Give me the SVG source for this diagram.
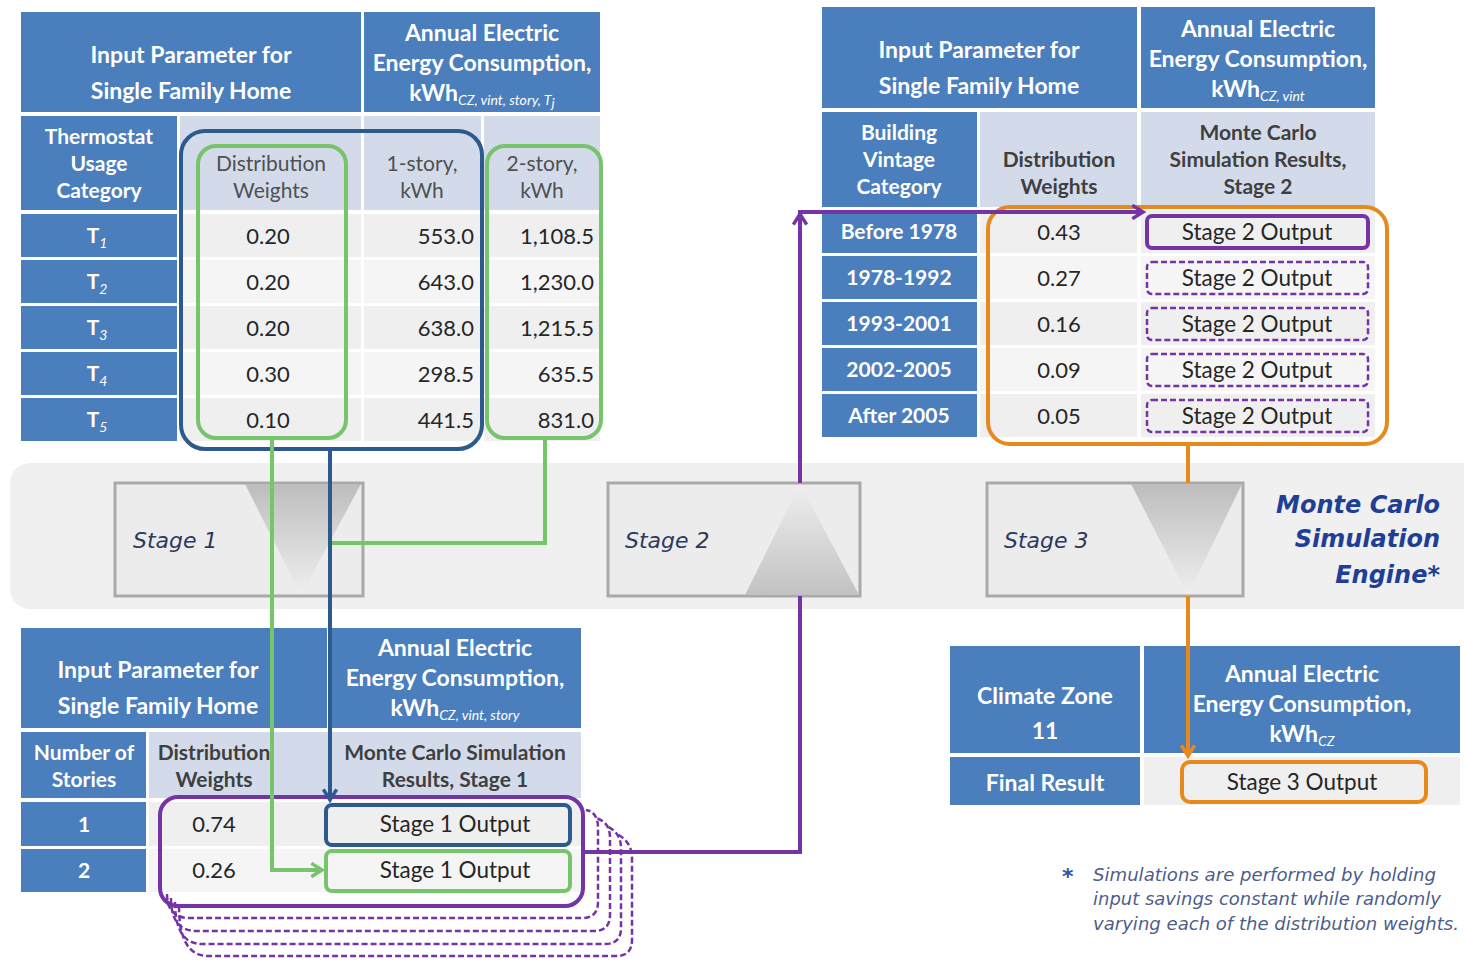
<svg xmlns="http://www.w3.org/2000/svg" width="1464" height="960" viewBox="0 0 1464 960">
<defs>
<style>
.bc{fill:#4b7ebd}
.lc{fill:#d3dbea}
.dc{fill:#efefef}
.dc2{fill:#f5f5f5}
.hw{font-family:Lato,"Liberation Sans",sans-serif;font-weight:bold;font-size:23px;fill:#fff;text-anchor:middle}
.hc{font-family:Lato,"Liberation Sans",sans-serif;font-weight:bold;font-size:21px;fill:#fff;text-anchor:middle}
.sb{font-style:italic;font-weight:normal;font-size:14px}
.sh{font-family:Lato,"Liberation Sans",sans-serif;font-weight:bold;font-size:21px;fill:#3f3f3f;text-anchor:middle}
.shr{font-family:Lato,"Liberation Sans",sans-serif;font-size:21px;fill:#505050;text-anchor:middle}
.dt{font-family:Lato,"Liberation Sans",sans-serif;font-size:22px;fill:#262626;text-anchor:middle}
.do{font-family:Lato,"Liberation Sans",sans-serif;font-size:22.5px;fill:#262626;text-anchor:middle}
.dr{font-family:Lato,"Liberation Sans",sans-serif;font-size:22px;fill:#262626;text-anchor:end}
.stg{font-family:"DejaVu Sans",Verdana,sans-serif;font-style:italic;font-size:22px;fill:#2b3a5c}
.sbox{fill:#ececec;stroke:#a9a9a9;stroke-width:3}
.conn{fill:none;stroke-width:4}
.g{stroke:#77c46c}
.b{stroke:#2d5a8e}
.p{stroke:#7434a6}
.o{stroke:#e8891e}
.pdash{fill:none;stroke:#7434a6;stroke-width:2.5;stroke-dasharray:6 3}
</style>
<linearGradient id="gDown" x1="0" y1="0" x2="0" y2="1">
<stop offset="0" stop-color="#bdbdbd"/><stop offset="1" stop-color="#efefef"/>
</linearGradient>
<linearGradient id="gUp" x1="0" y1="0" x2="0" y2="1">
<stop offset="0" stop-color="#efefef"/><stop offset="1" stop-color="#c2c2c2"/>
</linearGradient>
<marker id="ag" viewBox="0 0 12 12" refX="10" refY="6" markerWidth="16" markerHeight="16" markerUnits="userSpaceOnUse" orient="auto"><path d="M2,1 L10,6 L2,11" fill="none" stroke="#77c46c" stroke-width="2.6"/></marker>
<marker id="ab" viewBox="0 0 12 12" refX="10" refY="6" markerWidth="16" markerHeight="16" markerUnits="userSpaceOnUse" orient="auto"><path d="M2,1 L10,6 L2,11" fill="none" stroke="#2d5a8e" stroke-width="2.6"/></marker>
<marker id="ap" viewBox="0 0 12 12" refX="10" refY="6" markerWidth="16" markerHeight="16" markerUnits="userSpaceOnUse" orient="auto"><path d="M2,1 L10,6 L2,11" fill="none" stroke="#7434a6" stroke-width="2.6"/></marker>
<marker id="ao" viewBox="0 0 12 12" refX="10" refY="6" markerWidth="16" markerHeight="16" markerUnits="userSpaceOnUse" orient="auto"><path d="M2,1 L10,6 L2,11" fill="none" stroke="#e8891e" stroke-width="2.6"/></marker>
</defs>
<rect width="1464" height="960" fill="#fff"/>

<!-- engine band -->
<g id="engine">
<rect x="10" y="463" width="1480" height="146" rx="20" fill="#f0f0f0"/>
<text x="1440" y="513" font-family="'DejaVu Sans',Verdana,sans-serif" font-weight="bold" font-style="italic" font-size="24" fill="#213e96" text-anchor="end">Monte Carlo</text>
<text x="1440" y="547" font-family="'DejaVu Sans',Verdana,sans-serif" font-weight="bold" font-style="italic" font-size="24" fill="#213e96" text-anchor="end">Simulation</text>
<text x="1440" y="583" font-family="'DejaVu Sans',Verdana,sans-serif" font-weight="bold" font-style="italic" font-size="24" fill="#213e96" text-anchor="end">Engine*</text>
</g>
<g id="stage1">
<rect class="sbox" x="115" y="483" width="248" height="113"/>
<polygon points="245,484 361,484 301,595" fill="url(#gDown)"/>
<text class="stg" x="133" y="548">Stage 1</text>
</g>
<g id="stage2">
<rect class="sbox" x="608" y="483" width="252" height="113"/>
<polygon points="800,484 859,595 745,595" fill="url(#gUp)"/>
<text class="stg" x="625" y="548">Stage 2</text>
</g>
<g id="stage3">
<rect class="sbox" x="987" y="483" width="256" height="113"/>
<polygon points="1131,484 1242,484 1188,595" fill="url(#gDown)"/>
<text class="stg" x="1004" y="548">Stage 3</text>
</g>

<!-- top-left table -->
<g id="table-thermostat">
<rect class="bc" x="21" y="12" width="340" height="100"/>
<rect class="bc" x="364" y="12" width="236" height="100"/>
<text class="hw" x="191" y="63">Input Parameter for</text>
<text class="hw" x="191" y="99">Single Family Home</text>
<text class="hw" x="482" y="41">Annual Electric</text>
<text class="hw" x="482" y="71">Energy Consumption,</text>
<text class="hw" x="482" y="101">kWh<tspan class="sb" dy="4">CZ, vint, story, T</tspan><tspan class="sb" font-size="9" dy="3">j</tspan></text>
<rect class="bc" x="21" y="116" width="156" height="94"/>
<rect class="lc" x="180" y="116" width="181" height="94"/>
<rect class="lc" x="364" y="116" width="117" height="94"/>
<rect class="lc" x="484" y="116" width="116" height="94"/>
<text class="hc" x="99" y="144">Thermostat</text>
<text class="hc" x="99" y="171">Usage</text>
<text class="hc" x="99" y="198">Category</text>
<text class="shr" x="271" y="171">Distribution</text>
<text class="shr" x="271" y="198">Weights</text>
<text class="shr" x="422" y="171">1-story,</text>
<text class="shr" x="422" y="198">kWh</text>
<text class="shr" x="542" y="171">2-story,</text>
<text class="shr" x="542" y="198">kWh</text>
<rect class="bc" x="21" y="214" width="156" height="43"/><rect class="dc" x="180" y="214" width="181" height="43"/><rect class="dc" x="364" y="214" width="117" height="43"/><rect class="dc" x="484" y="214" width="116" height="43"/>
<rect class="bc" x="21" y="260" width="156" height="43"/><rect class="dc2" x="180" y="260" width="181" height="43"/><rect class="dc2" x="364" y="260" width="117" height="43"/><rect class="dc2" x="484" y="260" width="116" height="43"/>
<rect class="bc" x="21" y="306" width="156" height="43"/><rect class="dc" x="180" y="306" width="181" height="43"/><rect class="dc" x="364" y="306" width="117" height="43"/><rect class="dc" x="484" y="306" width="116" height="43"/>
<rect class="bc" x="21" y="352" width="156" height="43"/><rect class="dc2" x="180" y="352" width="181" height="43"/><rect class="dc2" x="364" y="352" width="117" height="43"/><rect class="dc2" x="484" y="352" width="116" height="43"/>
<rect class="bc" x="21" y="398" width="156" height="43"/><rect class="dc" x="180" y="398" width="181" height="43"/><rect class="dc" x="364" y="398" width="117" height="43"/><rect class="dc" x="484" y="398" width="116" height="43"/>
<text class="hc" x="97" y="243">T<tspan class="sb" font-weight="bold" font-style="normal" dy="5">1</tspan></text>
<text class="hc" x="97" y="289">T<tspan class="sb" font-weight="bold" font-style="normal" dy="5">2</tspan></text>
<text class="hc" x="97" y="335">T<tspan class="sb" font-weight="bold" font-style="normal" dy="5">3</tspan></text>
<text class="hc" x="97" y="381">T<tspan class="sb" font-weight="bold" font-style="normal" dy="5">4</tspan></text>
<text class="hc" x="97" y="427">T<tspan class="sb" font-weight="bold" font-style="normal" dy="5">5</tspan></text>
<text class="dt" x="268" y="244">0.20</text><text class="dr" x="474" y="244">553.0</text><text class="dr" x="594" y="244">1,108.5</text>
<text class="dt" x="268" y="290">0.20</text><text class="dr" x="474" y="290">643.0</text><text class="dr" x="594" y="290">1,230.0</text>
<text class="dt" x="268" y="336">0.20</text><text class="dr" x="474" y="336">638.0</text><text class="dr" x="594" y="336">1,215.5</text>
<text class="dt" x="268" y="382">0.30</text><text class="dr" x="474" y="382">298.5</text><text class="dr" x="594" y="382">635.5</text>
<text class="dt" x="268" y="428">0.10</text><text class="dr" x="474" y="428">441.5</text><text class="dr" x="594" y="428">831.0</text>
<rect x="181" y="131" width="301" height="318" rx="24" fill="none" stroke="#2d5a8e" stroke-width="4"/>
<rect x="198" y="146" width="148" height="292" rx="18" fill="none" stroke="#77c46c" stroke-width="4"/>
<rect x="487" y="146" width="114" height="292" rx="18" fill="none" stroke="#77c46c" stroke-width="4"/>
</g>

<!-- top-right table -->
<g id="table-vintage">
<rect class="bc" x="822" y="7" width="315" height="101"/>
<rect class="bc" x="1141" y="7" width="234" height="101"/>
<text class="hw" x="979" y="58">Input Parameter for</text>
<text class="hw" x="979" y="94">Single Family Home</text>
<text class="hw" x="1258" y="37">Annual Electric</text>
<text class="hw" x="1258" y="67">Energy Consumption,</text>
<text class="hw" x="1258" y="97">kWh<tspan class="sb" dy="4">CZ, vint</tspan></text>
<rect class="bc" x="822" y="112" width="155" height="95"/>
<rect class="lc" x="980" y="112" width="157" height="95"/>
<rect class="lc" x="1141" y="112" width="234" height="95"/>
<text class="hc" x="899" y="140">Building</text>
<text class="hc" x="899" y="167">Vintage</text>
<text class="hc" x="899" y="194">Category</text>
<text class="sh" x="1059" y="167">Distribution</text>
<text class="sh" x="1059" y="194">Weights</text>
<text class="sh" x="1258" y="140">Monte Carlo</text>
<text class="sh" x="1258" y="167">Simulation Results,</text>
<text class="sh" x="1258" y="194">Stage 2</text>
<rect class="bc" x="822" y="210" width="155" height="43"/><rect class="dc" x="980" y="210" width="157" height="43"/><rect class="dc" x="1141" y="210" width="234" height="43"/>
<rect class="bc" x="822" y="256" width="155" height="43"/><rect class="dc2" x="980" y="256" width="157" height="43"/><rect class="dc2" x="1141" y="256" width="234" height="43"/>
<rect class="bc" x="822" y="302" width="155" height="43"/><rect class="dc" x="980" y="302" width="157" height="43"/><rect class="dc" x="1141" y="302" width="234" height="43"/>
<rect class="bc" x="822" y="348" width="155" height="43"/><rect class="dc2" x="980" y="348" width="157" height="43"/><rect class="dc2" x="1141" y="348" width="234" height="43"/>
<rect class="bc" x="822" y="394" width="155" height="43"/><rect class="dc" x="980" y="394" width="157" height="43"/><rect class="dc" x="1141" y="394" width="234" height="43"/>
<text class="hc" x="899" y="239">Before 1978</text>
<text class="hc" x="899" y="285">1978-1992</text>
<text class="hc" x="899" y="331">1993-2001</text>
<text class="hc" x="899" y="377">2002-2005</text>
<text class="hc" x="899" y="423">After 2005</text>
<text class="dt" x="1059" y="240">0.43</text>
<text class="dt" x="1059" y="286">0.27</text>
<text class="dt" x="1059" y="332">0.16</text>
<text class="dt" x="1059" y="378">0.09</text>
<text class="dt" x="1059" y="424">0.05</text>
<rect x="1147" y="216" width="221" height="32" rx="5" fill="none" stroke="#7434a6" stroke-width="4"/>
<rect class="pdash" x="1147" y="262" width="221" height="32" rx="5"/>
<rect class="pdash" x="1147" y="308" width="221" height="32" rx="5"/>
<rect class="pdash" x="1147" y="354" width="221" height="32" rx="5"/>
<rect class="pdash" x="1147" y="400" width="221" height="32" rx="5"/>
<text class="do" x="1257" y="240">Stage 2 Output</text>
<text class="do" x="1257" y="286">Stage 2 Output</text>
<text class="do" x="1257" y="332">Stage 2 Output</text>
<text class="do" x="1257" y="378">Stage 2 Output</text>
<text class="do" x="1257" y="424">Stage 2 Output</text>
<rect x="988" y="207" width="399" height="237" rx="22" fill="none" stroke="#e8891e" stroke-width="4"/>
</g>

<!-- bottom-left table -->
<g id="table-stories">
<path class="pdash" d="M167,894 Q167,918 190,918 H582 Q598,918 598,902 V828 Q598,812 586,810"/>
<path class="pdash" d="M171,898 Q171,931 196,931 H594 Q610,931 610,915 V838 Q610,822 596,818"/>
<path class="pdash" d="M175,902 Q175,944 202,944 H605 Q621,944 621,928 V848 Q621,832 606,826"/>
<path class="pdash" d="M179,906 Q179,956 208,956 H616 Q632,956 632,940 V858 Q632,842 617,834"/>
<rect class="bc" x="21" y="628" width="306" height="100"/>
<rect class="bc" x="330" y="628" width="251" height="100"/>
<text class="hw" x="158" y="678">Input Parameter for</text>
<text class="hw" x="158" y="714">Single Family Home</text>
<text class="hw" x="455" y="656">Annual Electric</text>
<text class="hw" x="455" y="686">Energy Consumption,</text>
<text class="hw" x="455" y="716">kWh<tspan class="sb" dy="4">CZ, vint, story</tspan></text>
<rect class="bc" x="21" y="732" width="125" height="66"/>
<rect class="lc" x="149" y="732" width="432" height="66"/>
<text class="hc" x="84" y="760">Number of</text>
<text class="hc" x="84" y="787">Stories</text>
<text class="sh" x="214" y="760">Distribution</text>
<text class="sh" x="214" y="787">Weights</text>
<text class="sh" x="455" y="760">Monte Carlo Simulation</text>
<text class="sh" x="455" y="787">Results, Stage 1</text>
<rect class="bc" x="21" y="802" width="125" height="44"/><rect class="dc" x="149" y="802" width="432" height="44"/>
<rect class="bc" x="21" y="849" width="125" height="43"/><rect class="dc2" x="149" y="849" width="432" height="43"/>
<text class="hc" x="84" y="832">1</text>
<text class="hc" x="84" y="878">2</text>
<text class="dt" x="214" y="832">0.74</text>
<text class="dt" x="214" y="878">0.26</text>
<rect x="326" y="805" width="244" height="40" rx="6" fill="none" stroke="#2d5a8e" stroke-width="4"/>
<rect x="326" y="851" width="244" height="40" rx="6" fill="none" stroke="#77c46c" stroke-width="4"/>
<text class="do" x="455" y="832">Stage 1 Output</text>
<text class="do" x="455" y="878">Stage 1 Output</text>
<rect x="160" y="797" width="423" height="109" rx="18" fill="none" stroke="#7434a6" stroke-width="4"/>
</g>

<!-- bottom-right table -->
<g id="table-climate">
<rect class="bc" x="950" y="646" width="190" height="107"/>
<rect class="bc" x="1144" y="646" width="316" height="107"/>
<text class="hw" x="1045" y="704">Climate Zone</text>
<text class="hw" x="1045" y="739">11</text>
<text class="hw" x="1302" y="682">Annual Electric</text>
<text class="hw" x="1302" y="712">Energy Consumption,</text>
<text class="hw" x="1302" y="742">kWh<tspan class="sb" dy="4">CZ</tspan></text>
<rect class="bc" x="950" y="757" width="190" height="48"/>
<rect class="dc" x="1144" y="757" width="316" height="48"/>
<text class="hw" x="1045" y="791">Final Result</text>
<rect x="1182" y="762" width="244" height="40" rx="8" fill="none" stroke="#e8891e" stroke-width="4"/>
<text class="do" x="1302" y="790">Stage 3 Output</text>
</g>

<!-- footnote -->
<g id="footnote" font-family="'DejaVu Sans',Verdana,sans-serif" font-style="italic" font-size="18" fill="#4d5d8c">
<text x="1062" y="884" font-style="normal" font-weight="bold" font-size="22" fill="#3553a6">*</text>
<text x="1093" y="881" textLength="343" lengthAdjust="spacingAndGlyphs">Simulations are performed by holding</text>
<text x="1093" y="905" textLength="348" lengthAdjust="spacingAndGlyphs">input savings constant while randomly</text>
<text x="1093" y="930" textLength="366" lengthAdjust="spacingAndGlyphs">varying each of the distribution weights.</text>
</g>

<!-- connectors -->
<g id="connectors">
<path class="conn g" d="M272,438 V870 H322" marker-end="url(#ag)"/>
<path class="conn g" d="M545,438 V543 H331"/>
<path class="conn b" d="M330,450 V800" marker-end="url(#ab)"/>
<path class="conn p" d="M583,852 H800 V596"/>
<path class="conn p" d="M800,483 V212 H1143" marker-end="url(#ap)"/>
<path class="conn p" d="M800,240 V214" marker-end="url(#ap)"/>
<path class="conn o" d="M1188,445 V483"/>
<path class="conn o" d="M1188,596 V756" marker-end="url(#ao)"/>
</g>
</svg>
